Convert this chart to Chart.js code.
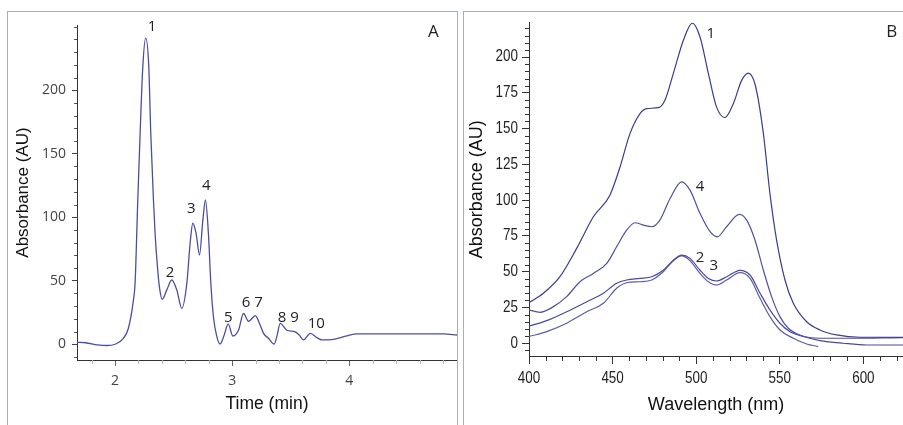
<!DOCTYPE html>
<html>
<head>
<meta charset="utf-8">
<script src="https://cdn.jsdelivr.net/npm/chart.js@4.4.1/dist/chart.umd.min.js"></script>
<style>
  body { margin: 0; background: #fff; width: 903px; height: 425px; overflow: hidden; position: relative; }
  canvas { position: absolute; top: 0; }
  #chartA { left: 0; }
  #chartB { left: 460px; }
  .frame { position: absolute; border: 1.5px solid #a7afb8; box-sizing: border-box; pointer-events: none; z-index: 2; }
  #frameA { left: 7px; top: 11px; width: 451px; height: 430px; }
  #frameB { left: 463px; top: 11px; width: 460px; height: 430px; }
</style>
</head>
<body>
<canvas id="chartA" width="460" height="425"></canvas>
<canvas id="chartB" width="443" height="425"></canvas>
<div class="frame" id="frameA"></div>
<div class="frame" id="frameB"></div>
<script>
"use strict";

// ---- panel A : chromatogram ----
const timeA = [1.675, 1.75, 1.85, 1.93, 2.0, 2.071, 2.114, 2.157, 2.171, 2.194, 2.214, 2.237, 2.262, 2.288, 2.305, 2.328,
  2.342, 2.362, 2.379, 2.402, 2.442, 2.484, 2.527, 2.57, 2.613, 2.641, 2.664, 2.692, 2.721, 2.75, 2.772, 2.797, 2.818,
  2.84, 2.869, 2.897, 2.932, 2.966, 3.006, 3.054, 3.097, 3.14, 3.197, 3.239, 3.268, 3.31, 3.359, 3.382, 3.41, 3.468,
  3.538, 3.575, 3.609, 3.667, 3.724, 3.767, 3.866, 3.98, 4.066, 4.806, 4.92];
const absA = [1.5, 1.2, -0.5, -1, 0, 4.7, 12.6, 35, 48, 113.6, 166, 218.6, 241, 218.6, 166, 113.6,
  87, 61, 45, 35.4, 42.8, 50.6, 42.8, 28.3, 48, 79.5, 95.3, 87.4, 70.3, 97.9, 113.6, 87.4, 48,
  21.7, 6, 0.2, 7.3, 16, 6.5, 11, 24.2, 18.1, 22.5, 15.2, 8.6, 4.7, 0.1, 6.2, 16.5, 11,
  9.7, 7, 3.4, 8.6, 5.2, 3.4, 3.9, 6.6, 8.1, 8.1, 7.3];
const xTicksA = [2, 3, 4];
const yTicksA = [0, 50, 100, 150, 200];
const xMinorA = [1.8, 2.2, 2.4, 2.6, 2.8, 3.2, 3.4, 3.6, 3.8, 4.2, 4.4, 4.6, 4.8];
const yMinorA = [-10, 10, 20, 30, 40, 60, 70, 80, 90, 110, 120, 130, 140, 160, 170, 180, 190, 210, 220, 230, 240, 250];
// peak numbers, anchored in data units
const peakTextA = ["1", "2", "3", "4", "5", "6 7", "8 9", "10", "A"];
const peakTimeA = [2.316, 2.47, 2.65, 2.778, 2.966, 3.171, 3.479, 3.718, 4.718];
const peakAbsA = [250, 56, 107, 124.6, 20.7, 32.5, 20.7, 16, 246];

// ---- panel B : spectra ----
const wlB1 = [400, 408.6, 418.5, 428.5, 438.5, 448.4, 454.4, 460.4, 466.4, 470.4, 477.4, 481.3, 486.3, 492.3, 497.7,
  502.3, 507.3, 512.2, 517.2, 522.2, 527.2, 531.2, 535.2, 540.2, 544.1, 548.1, 553.1, 558.1, 566.1, 574, 584, 598, 623.7];
const absB1 = [28.4, 34.9, 46.5, 66.3, 88.4, 103.5, 123, 146.5, 160.5, 164, 164.6, 169.8, 188.4, 211.6, 223.7,
  214, 188.4, 165, 157.7, 167.4, 183.7, 188.8, 181, 146.5, 104.7, 72, 44.2, 27.9, 15, 9.3, 5.8, 4.2, 4.2];
const wlB4 = [400, 406.6, 414.6, 422.5, 430.5, 438.5, 446.5, 452.4, 458.4, 463.4, 468.4, 473.4, 478.3, 484.3, 491.3,
  496.3, 502.3, 508.3, 512.6, 518.2, 525.8, 530.2, 535.2, 540.2, 545.1, 550.1, 555.1, 562, 574, 590, 623.7];
const absB4 = [23.3, 21.6, 25.6, 32.6, 43, 48.8, 55.8, 67.4, 79, 84.2, 82.6, 81.4, 86, 101, 112.8,
  107, 90.7, 78, 74.4, 81.4, 90, 86, 72, 51, 32.6, 18.6, 10.5, 5.8, 3.5, 3.5, 4];
const wlB2 = [400, 410.6, 422.5, 434.5, 444.5, 452.4, 458.4, 466.4, 473.4, 480.3, 486.3, 491.3, 496.3, 502.3,
  507.3, 512.2, 518.2, 526.2, 532.2, 538.2, 544.1, 550.1, 556.1, 564, 574, 588, 602, 623.7];
const absB2 = [12, 15.8, 22, 29, 35, 41.9, 44.2, 45.3, 46.5, 51, 58, 61.6, 59.3, 51,
  45.3, 43.5, 46.5, 51, 47.7, 35, 23.3, 14, 8.1, 4.7, 1.9, 0, -1.2, -1.2];
const wlB3 = [400, 410.6, 422.5, 434.5, 444.5, 452.4, 458.4, 466.4, 473.4, 480.3, 486.3, 491.3, 496.3, 502.3,
  507.3, 512.2, 518.2, 526.2, 532.2, 538.2, 544.1, 550.1, 558.1, 566.1, 573];
const absB3 = [4.7, 8.1, 14, 22, 27.9, 38.4, 42.3, 43, 44.2, 50, 57.7, 61, 57.7, 48.8,
  43, 40.7, 44.2, 49.3, 45.3, 31.4, 18.6, 9.3, 3.5, -0.5, -2.3];
const xTicksB = [400, 450, 500, 550, 600];
const yTicksB = [0, 25, 50, 75, 100, 125, 150, 175, 200];
const xMinorB = [410, 420, 430, 440, 460, 470, 480, 490, 510, 520, 530, 540, 560, 570, 580, 590, 610, 620];
const yMinorB = [-5, 5, 10, 15, 20, 30, 35, 40, 45, 55, 60, 65, 70, 80, 85, 90, 95, 105, 110, 115, 120,
  130, 135, 140, 145, 155, 160, 165, 170, 180, 185, 190, 195, 205, 210, 215, 220];
const peakTextB = ["1", "4", "2", "3", "B"];
const peakWlB = [508.7, 502.3, 502.3, 510.6, 616.9];
const peakAbsB = [216.5, 109.3, 59.5, 54.2, 217.4];

const pts = (xs, ys) => xs.map((x, i) => ({ x: x, y: ys[i] }));

// small ticks between the labelled ones, the peak numbers,
// and (panel B) the narrow tick labels the original software used
const extras = {
  id: "extras",
  afterDraw(chart, args, o) {
    const { ctx, scales: { x, y } } = chart;
    ctx.save();
    ctx.lineWidth = 1;
    ctx.strokeStyle = o.xColor;
    o.xMinor.forEach(v => {
      const px = Math.round(x.getPixelForValue(v)) + 0.5;
      ctx.beginPath();
      ctx.moveTo(px, y.bottom);
      ctx.lineTo(px, y.bottom + o.xLen);
      ctx.stroke();
    });
    ctx.strokeStyle = o.yColor;
    o.yMinor.forEach(v => {
      const py = Math.round(y.getPixelForValue(v)) + 0.5;
      ctx.beginPath();
      ctx.moveTo(x.left, py);
      ctx.lineTo(x.left - o.yLen, py);
      ctx.stroke();
    });

    if (o.narrow) {
      ctx.fillStyle = "#222";
      ctx.font = "16px 'Liberation Sans', Arial, sans-serif";
      ctx.textBaseline = "middle";
      const squeezed = (t, px, py, align) => {
        ctx.save();
        ctx.translate(px, py);
        ctx.scale(0.84, 1);
        ctx.textAlign = align;
        ctx.fillText(t, 0, 0);
        ctx.restore();
      };
      o.narrow.x.forEach(v => squeezed(String(v), x.getPixelForValue(v), y.bottom + 23, "center"));
      o.narrow.y.forEach(v => squeezed(String(v), x.left - 11, y.getPixelForValue(v), "right"));
    }

    ctx.fillStyle = "#222";
    ctx.textAlign = "center";
    ctx.textBaseline = "middle";
    o.text.forEach((t, i) => {
      const big = t === "A" || t === "B";
      ctx.font = (big ? 17 : 15) + "px 'Open Sans', 'Noto Sans', sans-serif";
      ctx.fillText(t, x.getPixelForValue(o.xs[i]), y.getPixelForValue(o.ys[i]));
    });
    ctx.restore();
  }
};

const setTicks = list => scale => { scale.ticks = list.map(v => ({ value: v })); };

new Chart(document.getElementById("chartA"), {
  type: "line",
  data: {
    datasets: [{
      data: pts(timeA, absA),
      borderColor: "#4d4d9e",
      borderWidth: 1.3,
      pointRadius: 0,
      cubicInterpolationMode: "monotone"
    }]
  },
  options: {
    responsive: false,
    animation: false,
    layout: { padding: { top: 25, right: 3, left: 0, bottom: 0 } },
    plugins: {
      legend: { display: false },
      tooltip: { enabled: false },
      extras: { xMinor: xMinorA, yMinor: yMinorA, xLen: 4, yLen: 3, xColor: "#b5b5b5", yColor: "#555",
        text: peakTextA, xs: peakTimeA, ys: peakAbsA }
    },
    scales: {
      x: {
        type: "linear", min: 1.675, max: 4.92,
        afterBuildTicks: setTicks(xTicksA),
        afterFit: s => { s.height = 65; },
        grid: { drawOnChartArea: false, tickLength: 6, tickColor: "#666" },
        border: { color: "#333", width: 1 },
        ticks: { color: "#444", padding: 7, font: { family: "'Open Sans'", size: 14 } },
        title: { display: true, text: "Time (min)", color: "#111", padding: { top: 0, bottom: 10 },
          font: { family: "'Liberation Sans'", size: 17.5 } }
      },
      y: {
        min: -12.4, max: 251.4,
        afterBuildTicks: setTicks(yTicksA),
        afterFit: s => { s.width = 77; },
        grid: { drawOnChartArea: false, tickLength: 5, tickColor: "#444" },
        border: { color: "#333", width: 1 },
        ticks: { color: "#444", padding: 6, font: { family: "'Open Sans'", size: 14 } },
        title: { display: true, text: "Absorbance (AU)", color: "#111", padding: { top: 13, bottom: 0 },
          font: { family: "'Liberation Sans'", size: 17 } }
      }
    }
  },
  plugins: [extras]
});

const lineB = (xs, ys, color) => ({
  data: pts(xs, ys), borderColor: color, borderWidth: 1.2, pointRadius: 0, cubicInterpolationMode: "monotone"
});

new Chart(document.getElementById("chartB"), {
  type: "line",
  data: {
    datasets: [
      lineB(wlB1, absB1, "#3c3c8e"),
      lineB(wlB4, absB4, "#50509e"),
      lineB(wlB2, absB2, "#4a4a9a"),
      lineB(wlB3, absB3, "#5c5ca8")
    ]
  },
  options: {
    responsive: false,
    animation: false,
    layout: { padding: { top: 22.7, right: 0, left: 0, bottom: 0 } },
    plugins: {
      legend: { display: false },
      tooltip: { enabled: false },
      extras: { xMinor: xMinorB, yMinor: yMinorB, xLen: 5, yLen: 4, xColor: "#333", yColor: "#333",
        text: peakTextB, xs: peakWlB, ys: peakAbsB, narrow: { x: xTicksB, y: yTicksB } }
    },
    scales: {
      x: {
        type: "linear", min: 400, max: 623.7,
        afterBuildTicks: setTicks(xTicksB),
        afterFit: s => { s.height = 69; },
        grid: { drawOnChartArea: false, tickLength: 8, tickColor: "#333" },
        border: { color: "#333", width: 1 },
        ticks: { display: false },
        title: { display: true, text: "Wavelength (nm)", color: "#111", padding: { top: 0, bottom: 9 },
          font: { family: "'Liberation Sans'", size: 18 } }
      },
      y: {
        min: -8.9, max: 224,
        afterBuildTicks: setTicks(yTicksB),
        afterFit: s => { s.width = 69; },
        grid: { drawOnChartArea: false, tickLength: 7, tickColor: "#333" },
        border: { color: "#333", width: 1 },
        ticks: { display: false },
        title: { display: true, text: "Absorbance (AU)", color: "#111", padding: { top: 6, bottom: 0 },
          font: { family: "'Liberation Sans'", size: 18 } }
      }
    }
  },
  plugins: [extras]
});
</script>
</body>
</html>
